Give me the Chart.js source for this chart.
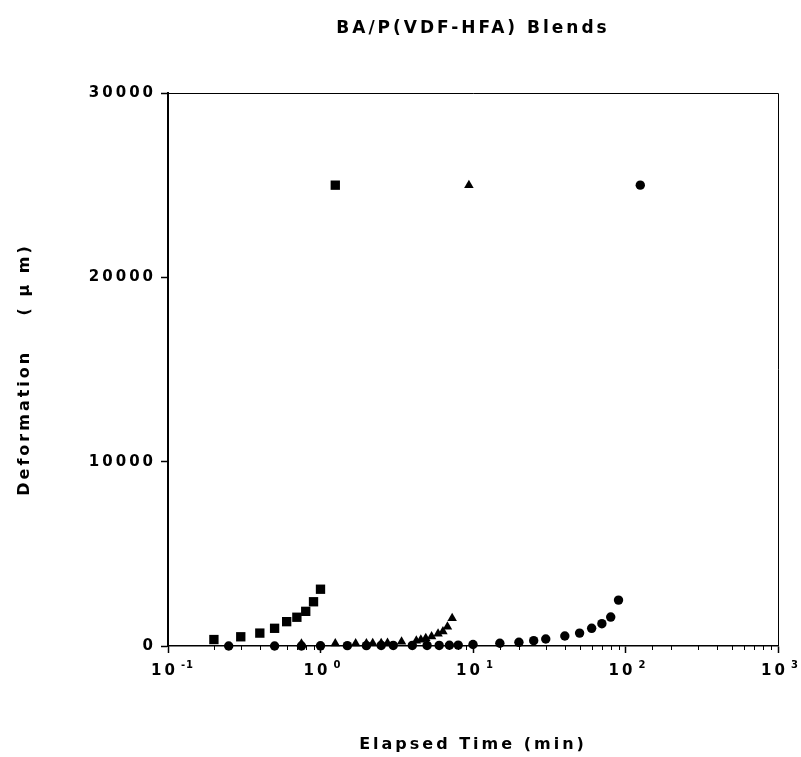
<!DOCTYPE html>
<html>
<head>
<meta charset="utf-8">
<title>BA/P(VDF-HFA) Blends</title>
<script src="https://cdn.jsdelivr.net/npm/chart.js@4.4.0/dist/chart.umd.min.js"></script>
<style>
    html, body { margin: 0; padding: 0; background: #fff; }
    #wrap { width: 801px; height: 757px; }
</style>
</head>
<body>
<div id="wrap"><canvas id="creepChart" width="801" height="757"></canvas></div>
<script>
// Elapsed time (min) / deformation (um)
const squareTime = [0.2, 0.3, 0.4, 0.5, 0.6, 0.7, 0.8, 0.9, 1.0, 1.25];
const squareDef = [350, 500, 700, 960, 1320, 1560, 1880, 2400, 3080, 25000];

const triangleTime = [0.75, 1.25, 1.7, 2.0, 2.2, 2.5, 2.75, 3.4, 4.25, 4.55, 4.9, 5.35, 5.9, 6.35, 6.8, 7.3, 9.4];
const triangleDef = [120, 130, 140, 140, 150, 150, 160, 230, 290, 340, 420, 510, 670, 790, 1050, 1500, 25000];

const circleTime = [0.25, 0.5, 0.75, 1.0, 1.5, 2.0, 2.5, 3.0, 4.0, 5.0, 6.0, 7.0, 8.0, 10, 15, 20, 25, 30, 40, 50, 60, 70, 80, 90, 125];
const circleDef = [0, 0, 0, 10, 20, 20, 30, 30, 30, 30, 30, 40, 50, 80, 150, 200, 290, 380, 540, 700, 960, 1210, 1570, 2490, 25000];

const xPowers = [-1, 0, 1, 2, 3];
const yTickValues = [0, 10000, 20000, 30000];

const FONT = "'DejaVu Sans', Verdana, sans-serif";
const SPACING = '3px';

const toPoints = (xs, ys) => xs.map((x, i) => ({ x: x, y: ys[i] }));
const isMajor = v => Math.abs(Math.log10(v) - Math.round(Math.log10(v))) < 1e-9;

// wide tracking like the original typesetting
const tracking = {
    id: 'tracking',
    beforeLayout(chart) { chart.ctx.letterSpacing = SPACING; },
    beforeDraw(chart) { chart.ctx.letterSpacing = SPACING; }
};

// frame, short minor ticks and 10^n labels
const axisExtras = {
    id: 'axisExtras',
    afterDraw(chart) {
        const { ctx, chartArea: a } = chart;
        const xs = chart.scales.x;
        ctx.save();
        ctx.strokeStyle = '#000';
        ctx.lineWidth = 1;
        ctx.beginPath();
        ctx.moveTo(a.left, a.top + 0.5);
        ctx.lineTo(a.right + 0.5, a.top + 0.5);
        ctx.lineTo(a.right + 0.5, a.bottom);
        ctx.stroke();

        ctx.beginPath();
        xs.ticks.forEach(t => {
            if (isMajor(t.value)) return;
            const px = Math.round(xs.getPixelForValue(t.value)) + 0.5;
            ctx.moveTo(px, a.bottom);
            ctx.lineTo(px, a.bottom + 4);
        });
        ctx.stroke();

        ctx.fillStyle = '#000';
        ctx.letterSpacing = SPACING;
        xPowers.forEach(p => {
            const px = xs.getPixelForValue(Math.pow(10, p));
            const cx = px - 5;
            ctx.font = 'bold 15px ' + FONT;
            const wb = ctx.measureText('10').width - 3;
            ctx.textAlign = 'center';
            ctx.textBaseline = 'alphabetic';
            ctx.fillText('10', cx + 1.5, a.bottom + 29);
            ctx.font = 'bold 10px ' + FONT;
            ctx.textAlign = 'left';
            ctx.letterSpacing = '1px';
            ctx.fillText(String(p), cx + wb / 2 + 6, a.bottom + 22);
            ctx.letterSpacing = SPACING;
        });
        ctx.restore();
    }
};

const marker = (style, radius) => ({
    pointStyle: style,
    pointRadius: radius,
    pointHoverRadius: radius,
    backgroundColor: '#000',
    borderColor: '#000',
    borderWidth: 0,
    showLine: false,
    clip: false
});

new Chart(document.getElementById('creepChart'), {
    type: 'scatter',
    data: {
        datasets: [
            Object.assign({ label: 'Squares', data: toPoints(squareTime, squareDef) }, marker('rect', 6.6)),
            Object.assign({ label: 'Triangles', data: toPoints(triangleTime, triangleDef) }, marker('triangle', 5.5)),
            Object.assign({ label: 'Circles', data: toPoints(circleTime, circleDef) }, marker('circle', 4.7))
        ]
    },
    options: {
        responsive: false,
        animation: false,
        events: [],
        layout: { padding: { left: 0, right: 23, top: 0, bottom: 0 } },
        plugins: {
            legend: { display: false },
            tooltip: { enabled: false },
            title: {
                display: true,
                fullSize: false,
                text: 'BA/P(VDF-HFA) Blends',
                color: '#000',
                font: { family: FONT, size: 17, weight: 'bold' },
                padding: { top: 18, bottom: 54.6 }
            }
        },
        scales: {
            x: {
                type: 'logarithmic',
                min: 0.1,
                max: 1000,
                afterFit(scale) { scale.height = 111; },
                border: { display: true, color: '#000', width: 1.5 },
                grid: {
                    drawOnChartArea: false,
                    drawTicks: true,
                    tickLength: 7,
                    tickWidth: 1.5,
                    tickColor: c => (c.tick && isMajor(c.tick.value)) ? '#000' : 'rgba(0,0,0,0)'
                },
                ticks: { display: false },
                title: {
                    display: true,
                    text: 'Elapsed Time (min)',
                    color: '#000',
                    font: { family: FONT, size: 16, weight: 'bold' },
                    padding: { top: 0, bottom: 3 }
                }
            },
            y: {
                min: 0,
                max: 30000,
                afterFit(scale) { scale.width = 168; },
                afterBuildTicks(scale) { scale.ticks = yTickValues.map(v => ({ value: v })); },
                border: { display: true, color: '#000', width: 2 },
                grid: {
                    drawOnChartArea: false,
                    drawTicks: true,
                    tickLength: 7,
                    tickWidth: 1.5,
                    tickColor: '#000'
                },
                ticks: {
                    color: '#000',
                    padding: 5,
                    font: { family: FONT, size: 15, weight: 'bold' },
                    callback: v => String(v)
                },
                title: {
                    display: true,
                    text: 'Deformation    ( \u03bc m)',
                    color: '#000',
                    font: { family: FONT, size: 16, weight: 'bold' },
                    padding: { top: 15, bottom: 0 }
                }
            }
        }
    },
    plugins: [tracking, axisExtras]
});
</script>
</body>
</html>
